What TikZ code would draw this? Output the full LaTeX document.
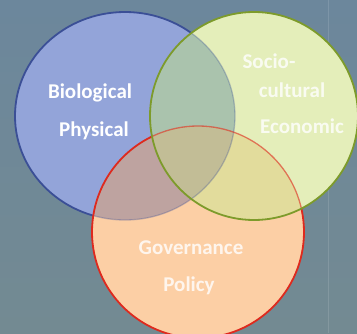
\documentclass[tikz,border=0pt]{standalone}
\usepackage{fontspec}
\setmainfont{Carlito}
\usetikzlibrary{positioning}
\definecolor{backtop}{HTML}{6C879C}
\definecolor{backbot}{HTML}{738A92}
\definecolor{bluefill}{HTML}{93A4D9}
\definecolor{blueline}{HTML}{3B4F96}
\definecolor{greenfill}{HTML}{E4EEBA}
\definecolor{greenline}{HTML}{7D9B2B}
\definecolor{redfill}{HTML}{FCCFA5}
\definecolor{redline}{HTML}{DE2A1E}
\definecolor{bluered}{HTML}{BEA3A0}
\definecolor{bluegreen}{HTML}{AAC3AD}
\definecolor{redgreen}{HTML}{E2DC9C}
\definecolor{allthree}{HTML}{C2BD96}
\tikzset{
    ring/.style={line width=1.8pt},
    faint/.style={line width=1.3pt, draw opacity=0.3},
    strong label/.style={font=\bfseries\fontsize{21}{21}\selectfont, text=white, inner sep=0pt, anchor=base},
    soft label/.style={strong label, text opacity=0.8}
}
\def\bio{(125,116) ellipse [x radius=110, y radius=104]}
\def\soc{(254,116) circle [radius=104]}
\def\gov{(198,232) circle [radius=106]}

\begin{document}
\begin{tikzpicture}[x=1pt, y=-1pt]
    \useasboundingbox (0,0) rectangle (357,333);
    \shade [top color=backtop, bottom color=backbot] (0,0) rectangle (357,333);
    \draw [white, opacity=0.12, line width=1pt] (328,0) -- (328,333);
    % biological / physical
    \fill [bluefill] \bio;
    \draw [ring, blueline] \bio;
    % governance / policy
    \fill [redfill] \gov;
    \begin{scope}
        \clip \bio;
        \fill [bluered] \gov;
    \end{scope}
    \begin{scope}
        \clip \gov;
        \draw [faint, blueline] \bio;
    \end{scope}
    \draw [ring, redline] \gov;
    % socio-cultural / economic
    \fill [greenfill] \soc;
    \begin{scope}
        \clip \soc;
        \begin{scope}
            \clip \bio;
            \fill [bluegreen] \soc;
        \end{scope}
        \begin{scope}
            \clip \gov;
            \fill [redgreen] \soc;
            \clip \bio;
            \fill [allthree] \soc;
        \end{scope}
        \draw [faint, blueline] \bio;
        \draw [faint, redline, draw opacity=0.6] \gov;
    \end{scope}
    \draw [ring, greenline] \soc;
    % labels
    \draw
        node [strong label] (biological) at (90,98) {Biological}
        node [strong label] (physical) at (94,136) {Physical}
        node [soft label] (socio) at (269,68) {Socio-}
        node [soft label] (cultural) at (292,97) {cultural}
        node [soft label] (economic) at (302,133) {Economic}
        node [soft label] (governance) at (191,254) {Governance}
        node [soft label] (policy) at (189,291) {Policy}
    ;
\end{tikzpicture}
\end{document}
